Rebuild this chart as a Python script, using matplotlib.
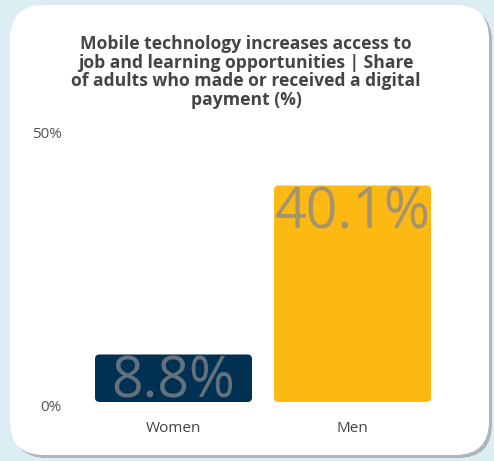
import matplotlib.pyplot as plt
import matplotlib.transforms as mtransforms
from matplotlib.patches import FancyBboxPatch

# data
categories = ["Women", "Men"]
values = [8.8, 40.1]
bar_colors = ["#003152", "#fdb913"]
value_labels = ["8.8%", "40.1%"]
ytick_vals = [0, 50]
ytick_labels = ["0%", "50%"]
title = ("Mobile technology increases access to\n"
         "job and learning opportunities | Share\n"
         "of adults who made or received a digital\n"
         "payment (%)")

W, H = 494, 461
plt.rcParams['font.family'] = ['Open Sans', 'DejaVu Sans']

fig = plt.figure(figsize=(W / 100, H / 100), dpi=100)
fig.patch.set_facecolor("#dcedf4")

# card in pixel coords
bg = fig.add_axes((0, 0, 1, 1))
bg.set_xlim(0, W)
bg.set_ylim(H, 0)
bg.axis("off")
shadow = FancyBboxPatch((13 + 34, 8 + 34), 479 - 68, 450 - 68,
                        boxstyle="round,pad=34", fc="#adb6ba", ec="none")
card = FancyBboxPatch((10 + 34, 5 + 34), 479 - 68, 450 - 68,
                      boxstyle="round,pad=34", fc="white", ec="none")
bg.add_patch(shadow)
bg.add_patch(card)

bg.text(246, 72, title, ha="center", va="center", fontsize=12.6,
        fontweight="bold", color="#444444", linespacing=1.05)

# main chart
ax_l, ax_r, ax_t, ax_b = 84, 442, 132, 402
ax = fig.add_axes((ax_l / W, (H - ax_b) / H, (ax_r - ax_l) / W, (ax_b - ax_t) / H))
ax.set_facecolor("none")
ax.set_xlim(-0.5, 1.5)
ax.set_ylim(0, 50)

bars = ax.bar(range(len(categories)), values, width=0.877, color=bar_colors)
aspect = (50 / (ax_b - ax_t)) / (2 / (ax_r - ax_l))
for b in bars:
    x, y = b.get_x(), b.get_y()
    w, h = b.get_width(), b.get_height()
    b.set_visible(False)
    r = 0.025
    p = FancyBboxPatch((x + r, y + r * aspect), w - 2 * r, h - 2 * r * aspect,
                       boxstyle=f"round,pad={r}", mutation_aspect=aspect,
                       fc=b.get_facecolor(), ec="none")
    ax.add_patch(p)

for i, v in enumerate(values):
    ax.text(i, v + 0.05, value_labels[i], ha="center", va="top", fontsize=40,
            color="#85888b", alpha=0.75)

ax.set_xticks(range(len(categories)))
ax.set_xticklabels(categories, fontsize=11, color="#444444")
ax.set_yticks(ytick_vals)
ax.set_yticklabels(ytick_labels, fontsize=11, color="#555555")
ax.tick_params(axis="x", length=0, pad=14)
ax.tick_params(axis="y", length=0, pad=16)
for s in ax.spines.values():
    s.set_visible(False)
zero_lab = ax.get_yticklabels()[0]
zero_lab.set_transform(zero_lab.get_transform() +
                       mtransforms.ScaledTranslation(0, -2.5 / 72, fig.dpi_scale_trans))

fig.savefig("out.png", dpi=100, facecolor=fig.get_facecolor())
